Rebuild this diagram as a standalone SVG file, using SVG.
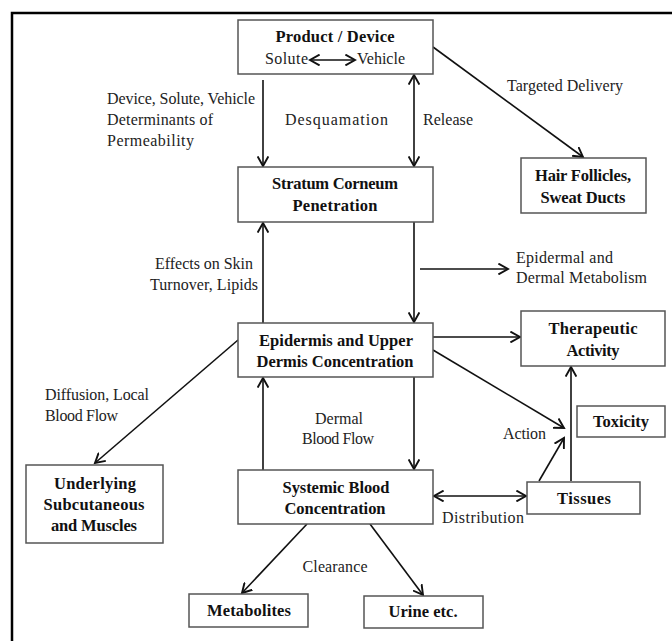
<svg xmlns="http://www.w3.org/2000/svg" width="672" height="641" viewBox="0 0 672 641">
<style>
.box{fill:#fff;stroke:#555;stroke-width:1.5}
.b{font-family:"Liberation Serif",serif;font-weight:bold;font-size:16.5px;fill:#111;text-anchor:middle}
.t{font-family:"Liberation Serif",serif;font-size:16px;fill:#222}
.m{text-anchor:middle}
.c{stroke:#111;stroke-width:1.6;fill:none}
.a{marker-end:url(#ah)}
.d{marker-end:url(#ah);marker-start:url(#ahs)}
</style>
<defs>
<marker id="ah" markerUnits="userSpaceOnUse" markerWidth="12" markerHeight="12" refX="8" refY="5" orient="auto" viewBox="0 0 10 10"><path d="M0,0.5 L8,5 L0,9.5" fill="none" stroke="#111" stroke-width="1.6"/></marker>
<marker id="ahs" markerUnits="userSpaceOnUse" markerWidth="12" markerHeight="12" refX="8" refY="5" orient="auto-start-reverse" viewBox="0 0 10 10"><path d="M0,0.5 L8,5 L0,9.5" fill="none" stroke="#111" stroke-width="1.6"/></marker>
</defs>
<rect width="672" height="641" fill="#fff"/>
<path d="M12,641 V13 H672" fill="none" stroke="#000" stroke-width="2.5"/>

<g id="connectors">
<line class="c a" x1="263" y1="80" x2="263" y2="166"/>
<line class="c d" x1="414" y1="75" x2="414" y2="166"/>
<line class="c a" x1="433" y1="47" x2="583" y2="157"/>
<line class="c a" x1="263" y1="323" x2="263" y2="223"/>
<line class="c a" x1="414" y1="222" x2="414" y2="322"/>
<line class="c a" x1="420" y1="269" x2="508" y2="269"/>
<line class="c a" x1="433" y1="337" x2="520" y2="337"/>
<line class="c a" x1="433" y1="350" x2="564" y2="428"/>
<line class="c a" x1="238" y1="340" x2="95" y2="463"/>
<line class="c a" x1="263" y1="470" x2="263" y2="378"/>
<line class="c a" x1="414" y1="377" x2="414" y2="469"/>
<line class="c d" x1="434" y1="496" x2="526" y2="496"/>
<line class="c a" x1="539" y1="481" x2="564" y2="438"/>
<line class="c a" x1="571" y1="481" x2="571" y2="367"/>
<line class="c a" x1="307" y1="524" x2="242" y2="593"/>
<line class="c a" x1="370" y1="524" x2="423" y2="595"/>
</g>

<g id="labels">
<text class="t" x="107" y="104" textLength="148">Device, Solute, Vehicle</text>
<text class="t" x="107" y="125" textLength="106">Determinants of</text>
<text class="t" x="107" y="146" textLength="87">Permeability</text>
<text class="t" x="285" y="125" textLength="103">Desquamation</text>
<text class="t" x="423" y="125" textLength="50">Release</text>
<text class="t" x="507" y="91" textLength="116">Targeted Delivery</text>
<text class="t m" x="204" y="269" textLength="98">Effects on Skin</text>
<text class="t m" x="204" y="290" textLength="108">Turnover, Lipids</text>
<text class="t" x="516" y="263" textLength="97">Epidermal and</text>
<text class="t" x="516" y="283" textLength="131">Dermal Metabolism</text>
<text class="t" x="45" y="400" textLength="104">Diffusion, Local</text>
<text class="t" x="45" y="421" textLength="73">Blood Flow</text>
<text class="t m" x="339" y="424" textLength="48">Dermal</text>
<text class="t m" x="338" y="444" textLength="72">Blood Flow</text>
<text class="t" x="503" y="439" textLength="43">Action</text>
<text class="t" x="442" y="523" textLength="82">Distribution</text>
<text class="t m" x="335" y="572" textLength="65">Clearance</text>
</g>

<g id="product">
<rect class="box" x="238" y="20" width="195" height="54"/>
<text class="b" x="335" y="42" textLength="119">Product / Device</text>
<text class="t" x="265" y="64" textLength="43">Solute</text>
<line class="c d" x1="310" y1="60" x2="355" y2="60"/>
<text class="t" x="357" y="64" textLength="48">Vehicle</text>
</g>
<g id="stratum">
<rect class="box" x="238" y="167" width="195" height="55"/>
<text class="b" x="335" y="189" textLength="126">Stratum Corneum</text>
<text class="b" x="335" y="211" textLength="85">Penetration</text>
</g>
<g id="hair">
<rect class="box" x="521" y="158" width="125" height="55"/>
<text class="b" x="583" y="181" textLength="96">Hair Follicles,</text>
<text class="b" x="583" y="203" textLength="85">Sweat Ducts</text>
</g>
<g id="epidermis">
<rect class="box" x="238" y="323" width="195" height="54"/>
<text class="b" x="336" y="346" textLength="154">Epidermis and Upper</text>
<text class="b" x="335" y="367" textLength="157">Dermis Concentration</text>
</g>
<g id="therapeutic">
<rect class="box" x="521" y="311" width="144" height="55"/>
<text class="b" x="593" y="334" textLength="89">Therapeutic</text>
<text class="b" x="593" y="356" textLength="53">Activity</text>
</g>
<g id="toxicity">
<rect class="box" x="577" y="406" width="88" height="31"/>
<text class="b" x="621" y="427" textLength="56">Toxicity</text>
</g>
<g id="underlying">
<rect class="box" x="26" y="465" width="137" height="78"/>
<text class="b" x="95" y="489" textLength="82">Underlying</text>
<text class="b" x="94" y="510" textLength="101">Subcutaneous</text>
<text class="b" x="94" y="531" textLength="86">and Muscles</text>
</g>
<g id="systemic">
<rect class="box" x="238" y="470" width="195" height="54"/>
<text class="b" x="336" y="493" textLength="107">Systemic Blood</text>
<text class="b" x="335" y="514" textLength="101">Concentration</text>
</g>
<g id="tissues">
<rect class="box" x="527" y="482" width="113" height="32"/>
<text class="b" x="584" y="504" textLength="54">Tissues</text>
</g>
<g id="metabolites">
<rect class="box" x="189" y="594" width="119" height="33"/>
<text class="b" x="249" y="616" textLength="84">Metabolites</text>
</g>
<g id="urine">
<rect class="box" x="364" y="596" width="119" height="32"/>
<text class="b" x="423" y="617" textLength="69">Urine etc.</text>
</g>
</svg>
